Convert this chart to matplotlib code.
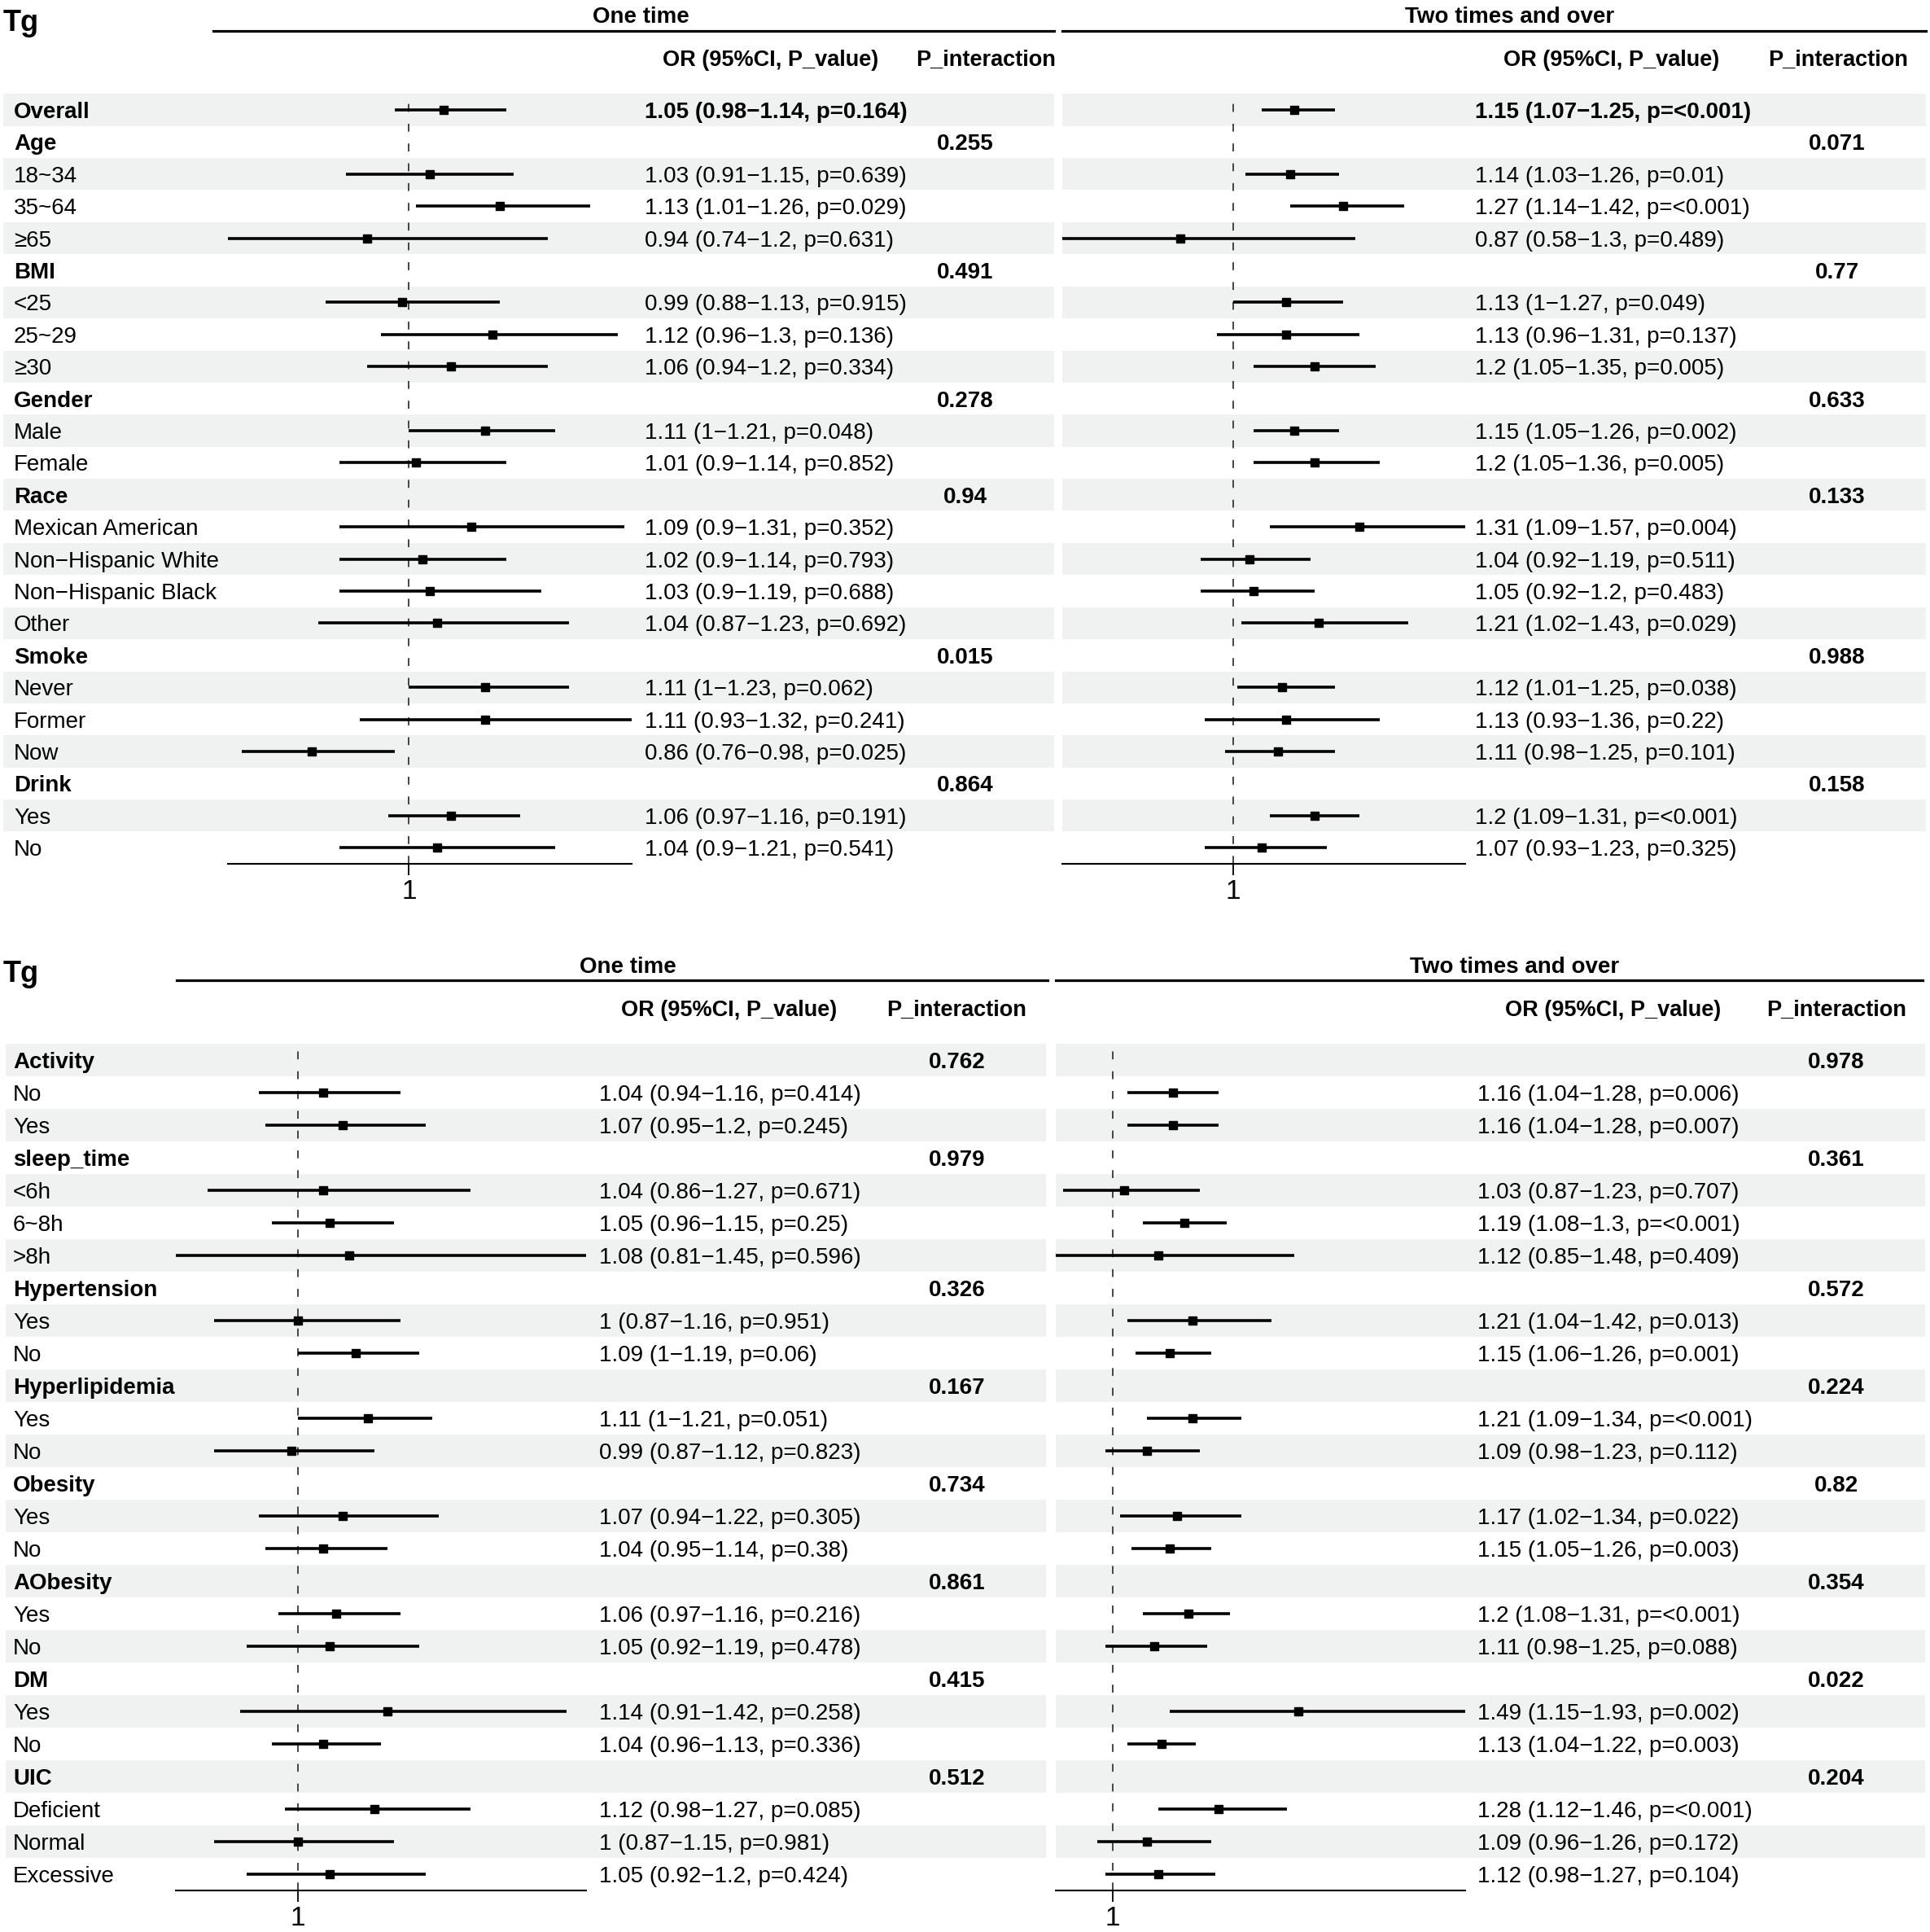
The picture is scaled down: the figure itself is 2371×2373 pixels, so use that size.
import matplotlib.pyplot as plt
from matplotlib.lines import Line2D
from matplotlib.transforms import offset_copy

N = None

# ---- upper table ----
top_labels = ["Overall", "Age", "18~34", "35~64", "≥65", "BMI", "<25", "25~29", "≥30",
              "Gender", "Male", "Female", "Race", "Mexican American", "Non−Hispanic White",
              "Non−Hispanic Black", "Other", "Smoke", "Never", "Former", "Now", "Drink", "Yes", "No"]

# One time
top_or1 = [1.05, N, 1.03, 1.13, 0.94, N, 0.99, 1.12, 1.06, N, 1.11, 1.01, N, 1.09, 1.02, 1.03, 1.04, N, 1.11, 1.11, 0.86, N, 1.06, 1.04]
top_lo1 = [0.98, N, 0.91, 1.01, 0.74, N, 0.88, 0.96, 0.94, N, 1.00, 0.90, N, 0.90, 0.90, 0.90, 0.87, N, 1.00, 0.93, 0.76, N, 0.97, 0.90]
top_hi1 = [1.14, N, 1.15, 1.26, 1.20, N, 1.13, 1.30, 1.20, N, 1.21, 1.14, N, 1.31, 1.14, 1.19, 1.23, N, 1.23, 1.32, 0.98, N, 1.16, 1.21]
top_p1 = ["0.164", "", "0.639", "0.029", "0.631", "", "0.915", "0.136", "0.334", "", "0.048", "0.852", "",
          "0.352", "0.793", "0.688", "0.692", "", "0.062", "0.241", "0.025", "", "0.191", "0.541"]
top_pint1 = ["", "0.255", "", "", "", "0.491", "", "", "", "0.278", "", "", "0.94", "", "", "", "",
             "0.015", "", "", "", "0.864", "", ""]

# Two times and over
top_or2 = [1.15, N, 1.14, 1.27, 0.87, N, 1.13, 1.13, 1.20, N, 1.15, 1.20, N, 1.31, 1.04, 1.05, 1.21, N, 1.12, 1.13, 1.11, N, 1.20, 1.07]
top_lo2 = [1.07, N, 1.03, 1.14, 0.58, N, 1.00, 0.96, 1.05, N, 1.05, 1.05, N, 1.09, 0.92, 0.92, 1.02, N, 1.01, 0.93, 0.98, N, 1.09, 0.93]
top_hi2 = [1.25, N, 1.26, 1.42, 1.30, N, 1.27, 1.31, 1.35, N, 1.26, 1.36, N, 1.57, 1.19, 1.20, 1.43, N, 1.25, 1.36, 1.25, N, 1.31, 1.23]
top_p2 = ["<0.001", "", "0.01", "<0.001", "0.489", "", "0.049", "0.137", "0.005", "", "0.002", "0.005", "",
          "0.004", "0.511", "0.483", "0.029", "", "0.038", "0.22", "0.101", "", "<0.001", "0.325"]
top_pint2 = ["", "0.071", "", "", "", "0.77", "", "", "", "0.633", "", "", "0.133", "", "", "", "",
             "0.988", "", "", "", "0.158", "", ""]

# ---- lower table ----
bot_labels = ["Activity", "No", "Yes", "sleep_time", "<6h", "6~8h", ">8h", "Hypertension", "Yes", "No",
              "Hyperlipidemia", "Yes", "No", "Obesity", "Yes", "No", "AObesity", "Yes", "No",
              "DM", "Yes", "No", "UIC", "Deficient", "Normal", "Excessive"]

bot_or1 = [N, 1.04, 1.07, N, 1.04, 1.05, 1.08, N, 1.00, 1.09, N, 1.11, 0.99, N, 1.07, 1.04, N, 1.06, 1.05, N, 1.14, 1.04, N, 1.12, 1.00, 1.05]
bot_lo1 = [N, 0.94, 0.95, N, 0.86, 0.96, 0.81, N, 0.87, 1.00, N, 1.00, 0.87, N, 0.94, 0.95, N, 0.97, 0.92, N, 0.91, 0.96, N, 0.98, 0.87, 0.92]
bot_hi1 = [N, 1.16, 1.20, N, 1.27, 1.15, 1.45, N, 1.16, 1.19, N, 1.21, 1.12, N, 1.22, 1.14, N, 1.16, 1.19, N, 1.42, 1.13, N, 1.27, 1.15, 1.20]
bot_p1 = ["", "0.414", "0.245", "", "0.671", "0.25", "0.596", "", "0.951", "0.06", "", "0.051", "0.823", "",
          "0.305", "0.38", "", "0.216", "0.478", "", "0.258", "0.336", "", "0.085", "0.981", "0.424"]
bot_pint1 = ["0.762", "", "", "0.979", "", "", "", "0.326", "", "", "0.167", "", "", "0.734", "", "",
             "0.861", "", "", "0.415", "", "", "0.512", "", "", ""]

bot_or2 = [N, 1.16, 1.16, N, 1.03, 1.19, 1.12, N, 1.21, 1.15, N, 1.21, 1.09, N, 1.17, 1.15, N, 1.20, 1.11, N, 1.49, 1.13, N, 1.28, 1.09, 1.12]
bot_lo2 = [N, 1.04, 1.04, N, 0.87, 1.08, 0.85, N, 1.04, 1.06, N, 1.09, 0.98, N, 1.02, 1.05, N, 1.08, 0.98, N, 1.15, 1.04, N, 1.12, 0.96, 0.98]
bot_hi2 = [N, 1.28, 1.28, N, 1.23, 1.30, 1.48, N, 1.42, 1.26, N, 1.34, 1.23, N, 1.34, 1.26, N, 1.31, 1.25, N, 1.93, 1.22, N, 1.46, 1.26, 1.27]
bot_p2 = ["", "0.006", "0.007", "", "0.707", "<0.001", "0.409", "", "0.013", "0.001", "", "<0.001", "0.112", "",
          "0.022", "0.003", "", "<0.001", "0.088", "", "0.002", "0.003", "", "<0.001", "0.172", "0.104"]
bot_pint2 = ["0.978", "", "", "0.361", "", "", "", "0.572", "", "", "0.224", "", "", "0.82", "", "",
             "0.354", "", "", "0.022", "", "", "0.204", "", "", ""]

col_titles = ["One time", "Two times and over"]

W, H = 2371, 2373
FS = 20
SHADE = "#eff2f1"

plt.rcParams['font.family'] = ['Liberation Sans', 'DejaVu Sans']


def fx(px):
    return px / W


def fy(py):
    return 1 - py / H


def fmt_or(o, l, h, p):
    return f"{o:g} ({l:g}\u2212{h:g}, p={p})"


def draw_forest(fig, rect, n, ors, los, his):
    ax = fig.add_axes(rect)
    ax.patch.set_alpha(0)
    rows = [i for i in range(n) if ors[i] is not None]
    lo = [los[i] for i in rows]
    hi = [his[i] for i in rows]
    ax.set_xlim(min(lo), max(hi))
    ax.set_ylim(n - 0.5, -0.5)
    ax.axvline(1, color='#444444', lw=1.4, ls=(0, (5, 7.5)), zorder=1)
    ax.hlines(rows, lo, hi, color='black', lw=2.6, zorder=2)
    ax.plot([ors[i] for i in rows], rows, 's', color='black', ms=7, zorder=3)
    for s in ['top', 'left', 'right']:
        ax.spines[s].set_visible(False)
    ax.spines['bottom'].set_linewidth(1.5)
    ax.set_yticks([])
    ax.set_xticks([1])
    ax.set_xticklabels(['1'])
    ax.tick_params(axis='x', length=10, width=1.3, pad=4, labelsize=24)
    return ax


def draw_block(fig, labels, cols, lay):
    n = len(labels)
    top = lay['row0'] - lay['pitch'] / 2
    bottom = lay['row0'] + (n - 0.5) * lay['pitch']
    bg = fig.add_axes([0, fy(bottom), 1, (bottom - top) / H])
    bg.set_xlim(0, W)
    bg.set_ylim(n - 0.5, -0.5)
    bg.axis('off')
    # nudge row text down a little so the caps sit on the row centre
    tr = offset_copy(bg.transData, fig=fig, y=-3, units='dots')

    fig.text(fx(4), fy(lay['tg_y']), 'Tg', fontsize=26, weight='bold', ha='left', va='center')

    pint_first = cols[0][4]
    for i, lab in enumerate(labels):
        bold = lab == 'Overall' or pint_first[i] != ''
        bg.text(lay['label_x'], i, lab, fontsize=FS, ha='left', va='center', transform=tr,
                weight='bold' if bold else 'normal')

    for (ors, los, his, ps, pints), c, title in zip(cols, lay['cols'], col_titles):
        for i in range(0, n, 2):
            bg.axhspan(i - 0.5, i + 0.5, xmin=c['shade'][0] / W, xmax=c['shade'][1] / W,
                       color=SHADE, lw=0, zorder=0)
        fig.add_artist(Line2D([fx(c['line'][0]), fx(c['line'][1])], [fy(lay['line_y'])] * 2,
                              color='black', lw=2.3, transform=fig.transFigure))
        fig.text(fx(c['title_x']), fy(lay['title_y']), title, fontsize=FS, weight='bold',
                 ha='center', va='center')
        fig.text(fx(c['or_head']), fy(lay['head_y']), 'OR (95%CI, P_value)', fontsize=19.5,
                 weight='bold', ha='center', va='center')
        fig.text(fx(c['p_head']), fy(lay['head_y']), 'P_interaction', fontsize=19.5,
                 weight='bold', ha='center', va='center')
        for i in range(n):
            if ors[i] is not None:
                bg.text(c['or_x'], i, fmt_or(ors[i], los[i], his[i], ps[i]), fontsize=FS,
                        ha='left', va='center', transform=tr,
                        weight='bold' if labels[i] == 'Overall' else 'normal')
            if pints[i]:
                bg.text(c['p_x'], i, pints[i], fontsize=FS, weight='bold', ha='center',
                        va='center', transform=tr)
        f0, f1 = c['forest']
        draw_forest(fig, [fx(f0), fy(bottom), (f1 - f0) / W, (bottom - top) / H], n, ors, los, his)


fig = plt.figure(figsize=(W / 100, H / 100), dpi=100)

top_layout = {
    'tg_y': 28, 'title_y': 21, 'line_y': 38, 'head_y': 74,
    'row0': 135, 'pitch': 39.4, 'label_x': 17,
    'cols': [
        {'shade': (4, 1295), 'line': (262, 1295), 'title_x': 787, 'or_head': 947, 'p_head': 1211,
         'or_x': 792, 'p_x': 1186, 'forest': (280, 776)},
        {'shade': (1305, 2366), 'line': (1305, 2366), 'title_x': 1855, 'or_head': 1980, 'p_head': 2258,
         'or_x': 1812, 'p_x': 2257, 'forest': (1305, 1800)},
    ],
}

bot_layout = {
    'tg_y': 1197, 'title_y': 1188, 'line_y': 1204, 'head_y': 1241,
    'row0': 1302, 'pitch': 40.0, 'label_x': 16,
    'cols': [
        {'shade': (7, 1285), 'line': (217, 1287), 'title_x': 771, 'or_head': 896, 'p_head': 1175,
         'or_x': 736, 'p_x': 1176, 'forest': (216, 720)},
        {'shade': (1297, 2365), 'line': (1297, 2362), 'title_x': 1861, 'or_head': 1982, 'p_head': 2256,
         'or_x': 1815, 'p_x': 2256, 'forest': (1297, 1800)},
    ],
}

draw_block(fig, top_labels,
           [(top_or1, top_lo1, top_hi1, top_p1, top_pint1),
            (top_or2, top_lo2, top_hi2, top_p2, top_pint2)], top_layout)
draw_block(fig, bot_labels,
           [(bot_or1, bot_lo1, bot_hi1, bot_p1, bot_pint1),
            (bot_or2, bot_lo2, bot_hi2, bot_p2, bot_pint2)], bot_layout)

fig.savefig('out.png', dpi=100)
